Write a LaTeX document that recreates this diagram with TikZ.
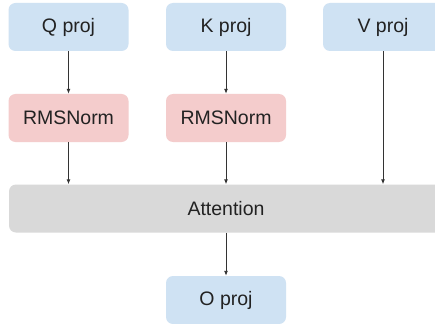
\documentclass[tikz,border=0pt]{standalone}
\usepackage{fontspec}
\setmainfont{Liberation Sans}
\usetikzlibrary{arrows.meta}
\definecolor{projblue}{HTML}{CFE2F3}
\definecolor{normpink}{HTML}{F4CCCC}
\definecolor{attgray}{HTML}{D9D9D9}
\definecolor{ink}{HTML}{222222}
\definecolor{wire}{HTML}{333333}
\begin{document}
\begin{tikzpicture}[x=1pt,y=-1pt,
  box/.style={rounded corners=7pt, minimum height=48pt, inner sep=0pt, text=ink, font=\fontsize{19.5}{21}\selectfont},
  proj/.style={box, fill=projblue, minimum width=120pt},
  norm/.style={box, fill=normpink, minimum width=120pt},
  att/.style={box, fill=attgray, minimum width=434pt},
  conn/.style={draw=wire, line width=0.9pt, -{Latex[length=5pt,width=4pt]}}]
\clip (0,0) rectangle (435,323);
\fill[white] (0,0) rectangle (435,323);
\node[proj] (q) at (68.5,27) {Q proj};
\node[proj] (k) at (226,27) {K proj};
\node[proj] (v) at (383,27) {V proj};
\node[norm] (qn) at (68.5,118) {RMSNorm};
\node[norm] (kn) at (226,118) {RMSNorm};
\node[att] (a) at (226,208.5) {Attention};
\node[proj] (o) at (226,300) {O proj};
\draw[conn] (q) -- (qn);
\draw[conn] (k) -- (kn);
\draw[conn] (qn) -- (qn |- a.north);
\draw[conn] (kn) -- (kn |- a.north);
\draw[conn] (v) -- (v |- a.north);
\draw[conn] (a.south -| o) -- (o);
\end{tikzpicture}
\end{document}
